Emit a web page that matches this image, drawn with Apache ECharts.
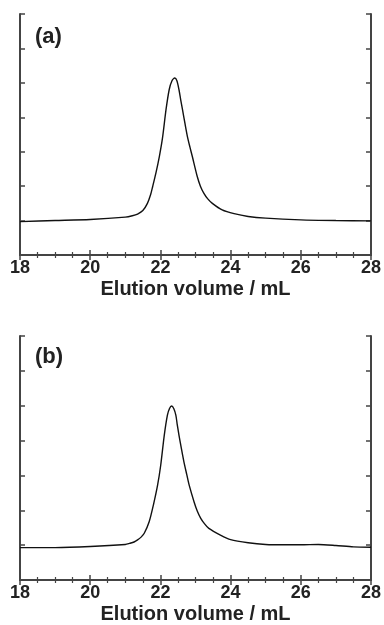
<!DOCTYPE html>
<html>
<head>
<meta charset="utf-8">
<script src="https://cdn.jsdelivr.net/npm/echarts@6/dist/echarts.min.js"></script>
<style>html,body{margin:0;padding:0;background:#fff}#c{width:384px;height:625px}</style>
</head>
<body>
<div id="c"></div>
<script>
const xTicks = [18, 20, 22, 24, 26, 28];
const xTitle = 'Elution volume / mL';
const panelLabels = ['(a)', '(b)'];

const volA = [18, 19, 20, 21, 21.2, 21.35, 21.5, 21.63, 21.72, 21.78, 21.87, 21.97, 22.06, 22.16, 22.25, 22.33, 22.41, 22.47, 22.53, 22.58, 22.63, 22.70, 22.77, 22.84, 22.91, 23.05, 23.14, 23.24, 23.35, 23.48, 23.76, 24.1, 24.5, 25.0, 26.0, 27.0, 28];
const sigA = [0.97, 1.0, 1.03, 1.10, 1.14, 1.19, 1.29, 1.50, 1.75, 1.99, 2.37, 2.86, 3.40, 4.22, 4.80, 5.06, 5.14, 5.06, 4.80, 4.50, 4.22, 3.82, 3.44, 3.14, 2.86, 2.28, 2.00, 1.79, 1.63, 1.50, 1.31, 1.20, 1.12, 1.07, 1.02, 1.0, 0.99];

const volB = [18, 19, 20, 21, 21.12, 21.25, 21.35, 21.45, 21.54, 21.68, 21.80, 21.92, 22.01, 22.11, 22.20, 22.26, 22.32, 22.38, 22.44, 22.48, 22.53, 22.60, 22.67, 22.75, 22.82, 22.96, 23.05, 23.15, 23.26, 23.38, 23.71, 24.0, 24.5, 25.0, 25.5, 26.0, 26.5, 27.0, 27.5, 28];
const sigB = [0.93, 0.93, 0.96, 1.02, 1.05, 1.09, 1.15, 1.23, 1.34, 1.67, 2.15, 2.72, 3.30, 4.15, 4.73, 4.92, 4.99, 4.92, 4.73, 4.46, 4.15, 3.76, 3.39, 3.03, 2.72, 2.24, 1.98, 1.77, 1.61, 1.48, 1.29, 1.16, 1.07, 1.02, 1.01, 1.01, 1.02, 0.99, 0.95, 0.94];

const axisCol = '#444';
const fontFam = '"Liberation Sans", Arial, sans-serif';

function xAxisBottom(gi) {
  return {
    type: 'value', gridIndex: gi, position: 'bottom',
    min: xTicks[0], max: xTicks[xTicks.length - 1], interval: xTicks[1] - xTicks[0],
    name: xTitle, nameLocation: 'middle', nameGap: 24,
    nameTextStyle: { fontFamily: fontFam, fontWeight: 'bold', fontSize: 20, color: '#222' },
    axisLine: { show: true, lineStyle: { color: axisCol, width: 2 } },
    axisTick: { show: true, inside: true, length: 5, lineStyle: { color: axisCol, width: 1.5 } },
    minorTick: { show: true, splitNumber: 4, length: 3, lineStyle: { color: axisCol, width: 1.2 } },
    axisLabel: { fontFamily: fontFam, fontWeight: 'bold', fontSize: 18, color: '#222', margin: 4 },
    splitLine: { show: false }
  };
}
function xAxisTop(gi) {
  return {
    type: 'value', gridIndex: gi, position: 'top',
    min: xTicks[0], max: xTicks[xTicks.length - 1], interval: xTicks[1] - xTicks[0],
    axisLine: { show: true, lineStyle: { color: axisCol, width: 2 } },
    axisTick: { show: true, inside: true, length: 5, lineStyle: { color: axisCol, width: 1.5 } },
    minorTick: { show: true, splitNumber: 4, length: 3, lineStyle: { color: axisCol, width: 1.2 } },
    axisLabel: { show: false },
    splitLine: { show: false }
  };
}
function yAxis(gi, pos) {
  return {
    type: 'value', gridIndex: gi, position: pos,
    min: 0, max: 7, interval: 1,
    axisLine: { show: true, lineStyle: { color: axisCol, width: 2 } },
    axisTick: { show: true, inside: true, length: 5, lineStyle: { color: axisCol, width: 1.5 } },
    axisLabel: { show: false },
    splitLine: { show: false }
  };
}

const chart = echarts.init(document.getElementById('c'), null, { renderer: 'canvas' });
chart.setOption({
  animation: false,
  backgroundColor: '#fff',
  grid: [
    { left: 20, right: 11, top: 14, height: 241 },
    { left: 20, right: 11, top: 336, height: 244 }
  ],
  xAxis: [xAxisBottom(0), xAxisTop(0), xAxisBottom(1), xAxisTop(1)],
  yAxis: [yAxis(0, 'left'), yAxis(0, 'right'), yAxis(1, 'left'), yAxis(1, 'right')],
  graphic: [
    { type: 'text', left: 35, top: 26, style: { text: panelLabels[0], font: 'bold 22px ' + fontFam, fill: '#222' } },
    { type: 'text', left: 35, top: 346, style: { text: panelLabels[1], font: 'bold 22px ' + fontFam, fill: '#222' } }
  ],
  series: [
    { type: 'line', xAxisIndex: 0, yAxisIndex: 0, data: volA.map((v, i) => [v, sigA[i]]),
      showSymbol: false, smooth: 0.25, lineStyle: { color: '#111', width: 1.4 } },
    { type: 'line', xAxisIndex: 2, yAxisIndex: 2, data: volB.map((v, i) => [v, sigB[i]]),
      showSymbol: false, smooth: 0.25, lineStyle: { color: '#111', width: 1.4 } }
  ]
});
</script>
</body>
</html>
